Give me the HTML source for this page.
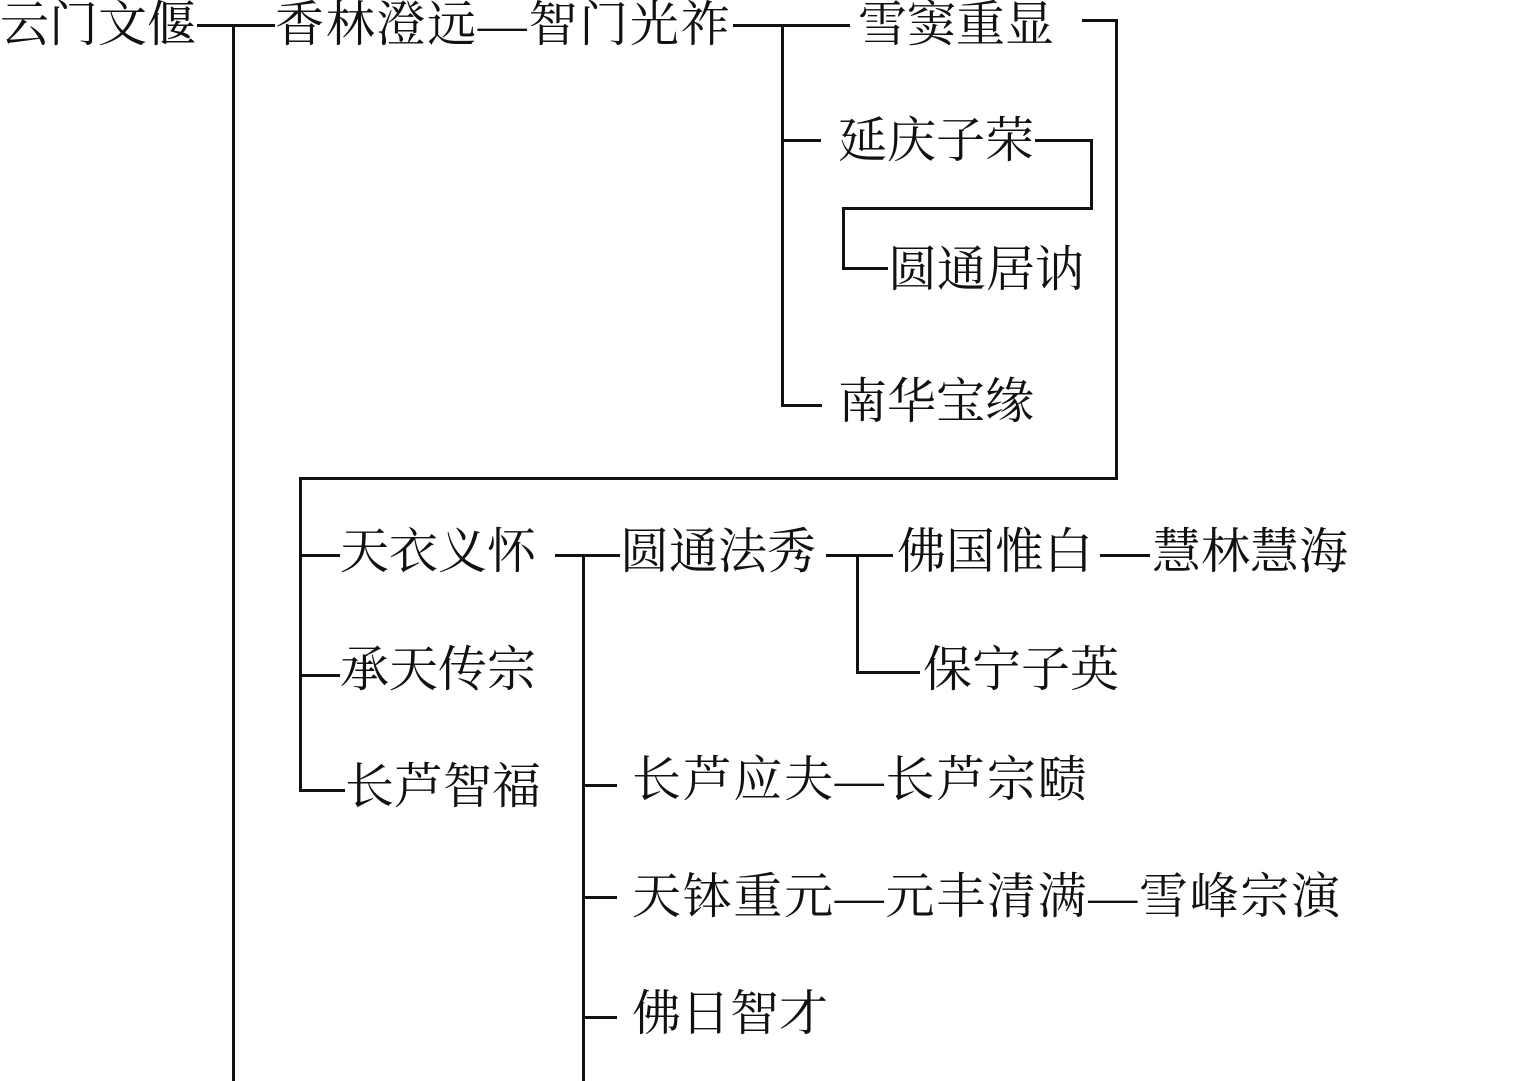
<!DOCTYPE html>
<html><head><meta charset="utf-8"><style>
body{margin:0;width:1536px;height:1081px;background:#fff;position:relative;overflow:hidden}
.t{position:absolute;font-family:"Liberation Serif","Noto Serif CJK SC",serif;font-size:49px;line-height:49px;color:#111;white-space:nowrap}
.d{letter-spacing:1.7px}
.h,.v{position:absolute;background:#111}
.h{height:3px}.v{width:3px}
</style></head><body>
<div class="t" style="left:0;top:0">云门文偃</div>
<div class="h" style="left:197px;top:24px;width:78px"></div>
<div class="v" style="left:232px;top:24px;height:1057px"></div>
<div class="t d" style="left:275px;top:0">香林澄远—智门光祚</div>
<div class="h" style="left:733px;top:24px;width:117px"></div>
<div class="v" style="left:781px;top:24px;height:383px"></div>
<div class="t" style="left:858px;top:0">雪窦重显</div>
<div class="h" style="left:1082px;top:19px;width:36px"></div>
<div class="v" style="left:1115px;top:19px;height:461px"></div>
<div class="h" style="left:299px;top:477px;width:819px"></div>
<div class="v" style="left:299px;top:477px;height:315px"></div>

<div class="h" style="left:781px;top:139px;width:40px"></div>
<div class="t" style="left:838px;top:116px">延庆子荣</div>
<div class="h" style="left:1035px;top:139px;width:58px"></div>
<div class="v" style="left:1090px;top:139px;height:71px"></div>
<div class="h" style="left:842px;top:207px;width:251px"></div>
<div class="v" style="left:842px;top:207px;height:63px"></div>
<div class="h" style="left:842px;top:267px;width:46px"></div>
<div class="t" style="left:888px;top:245px">圆通居讷</div>

<div class="h" style="left:781px;top:404px;width:41px"></div>
<div class="t" style="left:838px;top:377px">南华宝缘</div>

<div class="h" style="left:299px;top:554px;width:41px"></div>
<div class="t" style="left:340px;top:527px">天衣义怀</div>
<div class="h" style="left:555px;top:554px;width:65px"></div>
<div class="v" style="left:582px;top:554px;height:527px"></div>
<div class="t" style="left:620px;top:527px">圆通法秀</div>
<div class="h" style="left:826px;top:554px;width:67px"></div>
<div class="v" style="left:856px;top:554px;height:120px"></div>
<div class="h" style="left:856px;top:671px;width:64px"></div>
<div class="t" style="left:897px;top:527px">佛国惟白</div>
<div class="h" style="left:1100px;top:554px;width:50px"></div>
<div class="t" style="left:1152px;top:527px">慧林慧海</div>
<div class="t" style="left:923px;top:645px">保宁子英</div>

<div class="h" style="left:299px;top:674px;width:41px"></div>
<div class="t" style="left:340px;top:645px">承天传宗</div>
<div class="h" style="left:299px;top:789px;width:46px"></div>
<div class="t" style="left:345px;top:762px">长芦智福</div>

<div class="h" style="left:582px;top:784px;width:35px"></div>
<div class="t d" style="left:632px;top:755px">长芦应夫—长芦宗赜</div>
<div class="h" style="left:582px;top:896px;width:35px"></div>
<div class="t d" style="left:632px;top:872px">天钵重元—元丰清满—雪峰宗演</div>
<div class="h" style="left:582px;top:1016px;width:35px"></div>
<div class="t" style="left:632px;top:989px">佛日智才</div>
</body></html>
